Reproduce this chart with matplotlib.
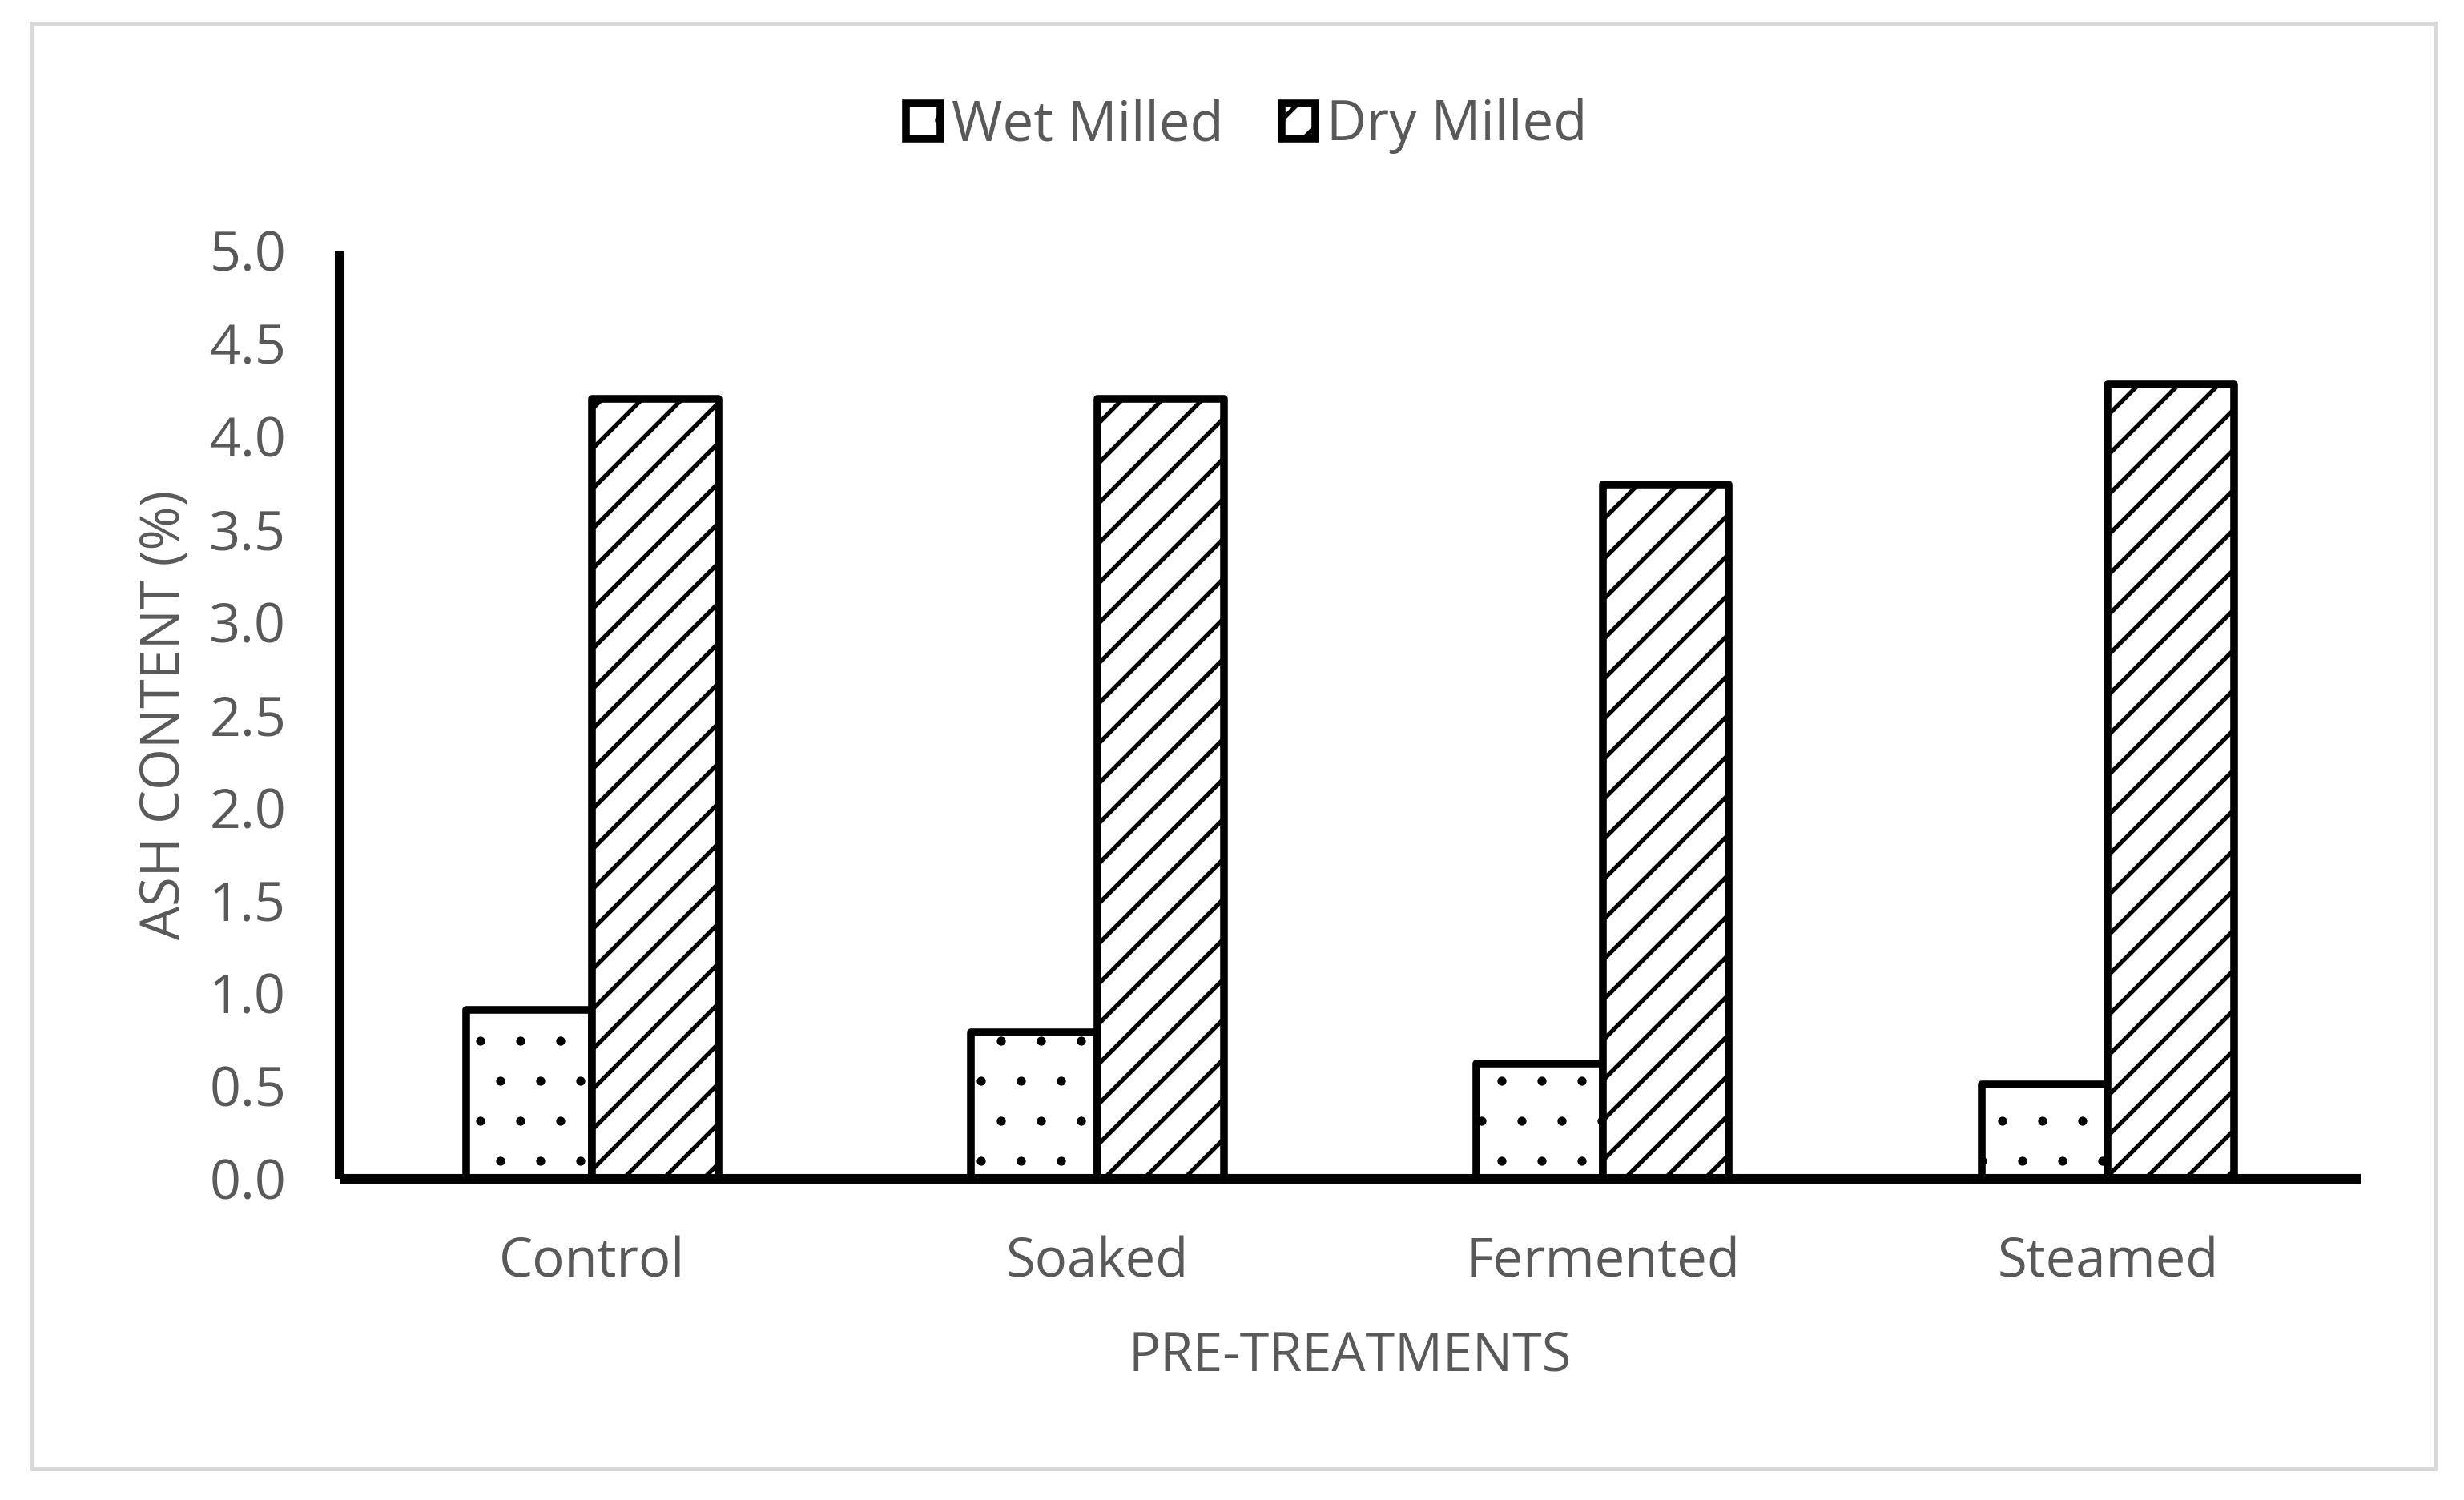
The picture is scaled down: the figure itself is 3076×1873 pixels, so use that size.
# =====================================================
# ASH CONTENT BY PRE-TREATMENT (WET VS DRY MILLED)
# =====================================================

import numpy as np
import matplotlib.pyplot as plt
from matplotlib.patches import Rectangle

# =====================================================
# DATA
# =====================================================

treatments = ["Control", "Soaked", "Fermented", "Steamed"]

wet_milled = [0.91, 0.79, 0.62, 0.51]
dry_milled = [4.20, 4.20, 3.74, 4.28]

y_ticks = [0.0, 0.5, 1.0, 1.5, 2.0, 2.5, 3.0, 3.5, 4.0, 4.5, 5.0]

# =====================================================
# STYLE
# =====================================================

plt.rcParams["font.family"] = ["Open Sans", "DejaVu Sans"]
plt.rcParams["hatch.linewidth"] = 1.3
plt.rcParams["hatch.color"] = "black"

text_color = "#595959"

# =====================================================
# FIGURE
# =====================================================

fig = plt.figure(figsize=(3076 / 300, 1873 / 300), dpi=300)

ax = fig.add_axes([0.1378, 0.2141, 0.8202, 0.6188])

x = np.arange(len(treatments))
width = 0.25

# dotted bars use a thinner hatch line so the dots stay small
with plt.rc_context({"hatch.linewidth": 0.3}):
    wet_bars = ax.bar(
        x - width / 2,
        wet_milled,
        width,
        color="white",
        edgecolor="black",
        linewidth=2.3,
        hatch=".",
        joinstyle="round",
        label="Wet Milled",
        zorder=2
    )

dry_bars = ax.bar(
    x + width / 2,
    dry_milled,
    width,
    color="white",
    edgecolor="black",
    linewidth=2.3,
    hatch="//",
    joinstyle="round",
    label="Dry Milled",
    zorder=2
)

for bar in wet_bars:
    if hasattr(bar, "set_hatch_linewidth"):
        bar.set_hatch_linewidth(0.3)

# =====================================================
# AXES
# =====================================================

ax.set_xlim(-0.5, 3.5)
ax.set_ylim(0, 5)

ax.set_yticks(y_ticks)
ax.set_yticklabels([f"{t:.1f}" for t in y_ticks])

ax.set_xticks(x)
ax.set_xticklabels(treatments)

ax.tick_params(axis="y", length=0, pad=16, labelsize=16.4, labelcolor=text_color)
ax.tick_params(axis="x", length=0, pad=17, labelsize=16.1, labelcolor=text_color)

for side in ["top", "right"]:
    ax.spines[side].set_visible(False)

for side in ["left", "bottom"]:
    ax.spines[side].set_linewidth(2.9)
    ax.spines[side].set_color("black")
    ax.spines[side].set_capstyle("butt")

ax.set_ylabel("ASH CONTENT (%)", fontsize=16, color=text_color, labelpad=5)
ax.set_xlabel("PRE-TREATMENTS", fontsize=16, color=text_color, labelpad=12)

# =====================================================
# LEGEND
# =====================================================

fig.legend(
    loc="center",
    bbox_to_anchor=(0.506, 0.916),
    ncol=2,
    frameon=False,
    fontsize=16.5,
    labelcolor=text_color,
    handlelength=0.62,
    handleheight=0.62,
    handletextpad=0.2,
    columnspacing=1.05
)

# =====================================================
# OUTER BORDER
# =====================================================

fig.patches.append(Rectangle(
    (39 / 3076, 1 - 1834 / 1873),
    (3041 - 39) / 3076,
    (1834 - 29) / 1873,
    transform=fig.transFigure,
    fill=False,
    edgecolor="#d9d9d9",
    linewidth=1.2
))

plt.savefig("out.png", dpi=300)
